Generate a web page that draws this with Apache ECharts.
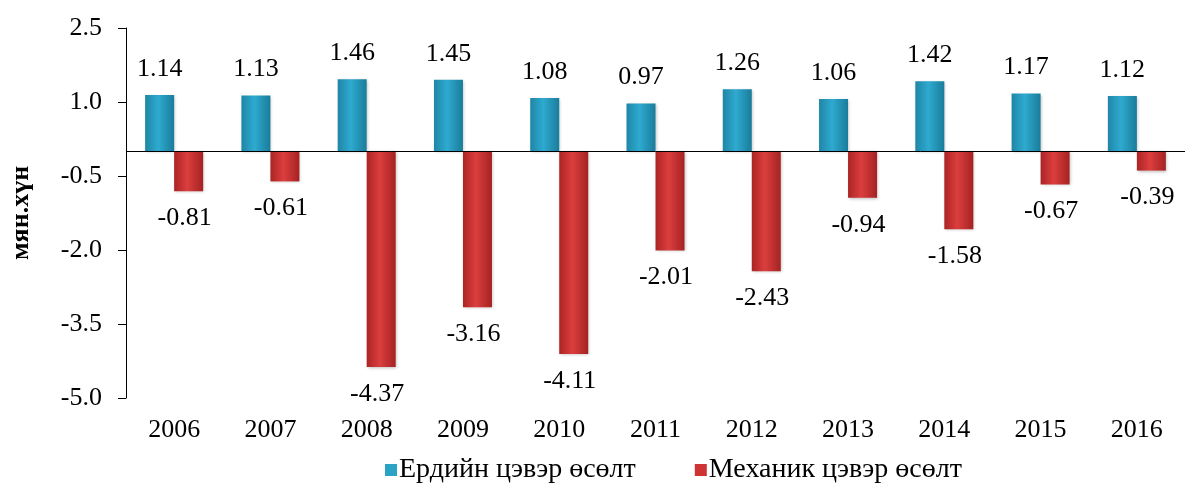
<!DOCTYPE html>
<html>
<head>
<meta charset="utf-8">
<script src="https://cdn.jsdelivr.net/npm/echarts@6/dist/echarts.min.js"></script>
<style>
html,body{margin:0;padding:0;background:#fff;}
#chart{width:1195px;height:489px;}
</style>
</head>
<body>
<div id="chart"></div>
<script>
const years = ['2006','2007','2008','2009','2010','2011','2012','2013','2014','2015','2016'];
const natural = [1.14,1.13,1.46,1.45,1.08,0.97,1.26,1.06,1.42,1.17,1.12];
const mechanical = [-0.81,-0.61,-4.37,-3.16,-4.11,-2.01,-2.43,-0.94,-1.58,-0.67,-0.39];
const seriesNames = ['Ердийн цэвэр өсөлт','Механик цэвэр өсөлт'];
const yAxisName = 'мян.хүн';

const FONT = '"Liberation Serif", "Times New Roman", serif';
const blueGrad = new echarts.graphic.LinearGradient(0,0,1,0,[
  {offset:0,color:'#1f86a6'},{offset:0.45,color:'#2eaad0'},{offset:1,color:'#1a7c9a'}]);
const redGrad = new echarts.graphic.LinearGradient(0,0,1,0,[
  {offset:0,color:'#ab2424'},{offset:0.45,color:'#dc3e3e'},{offset:1,color:'#a52222'}]);

const chart = echarts.init(document.getElementById('chart'), null, {renderer:'canvas'});
chart.setOption({
  backgroundColor:'#fff',
  animation:false,
  grid:{left:122, right:10, top:28, bottom:91},
  legend:{
    bottom:0, left:380, icon:'rect', itemWidth:12, itemHeight:12, itemGap:59,
    textStyle:{fontFamily:FONT, fontSize:28, color:'#000', padding:[0,0,0,-3]},
    data:[
      {name:seriesNames[0], itemStyle:{color:'#2ba3c4'}},
      {name:seriesNames[1], itemStyle:{color:'#cf3434'}}
    ]
  },
  xAxis:{
    type:'category', data:years,
    axisLine:{show:false}, axisTick:{show:false},
    axisLabel:{fontFamily:FONT, fontSize:26, color:'#000', margin:19}
  },
  yAxis:{
    type:'value', min:-5, max:2.5, interval:1.5,
    name:yAxisName, nameLocation:'middle', nameGap:92, nameRotate:90,
    nameTextStyle:{fontFamily:FONT, fontSize:26, fontWeight:'bold', color:'#000'},
    axisLine:{show:true, lineStyle:{color:'#000', width:1}},
    axisTick:{show:true, inside:false, length:8, lineStyle:{color:'#000'}},
    splitLine:{show:false},
    axisLabel:{fontFamily:FONT, fontSize:26, color:'#000', margin:24,
      formatter:v=>v.toFixed(1)}
  },
  series:[
    {
      name:seriesNames[0], type:'bar', data:natural, barWidth:29, barGap:'0%',
      itemStyle:{color:blueGrad, shadowColor:'rgba(0,0,0,0.25)', shadowBlur:3, shadowOffsetX:1, shadowOffsetY:1},
      label:{show:true, position:'top', distance:13, fontFamily:FONT, fontSize:26, color:'#000',
        formatter:p=>p.value.toFixed(2)},
      markLine:{silent:true, symbol:'none', label:{show:false},
        lineStyle:{color:'#000', type:'solid', width:1},
        data:[{yAxis:0}]}
    },
    {
      name:seriesNames[1], type:'bar', data:mechanical, barWidth:29,
      itemStyle:{color:redGrad, shadowColor:'rgba(0,0,0,0.25)', shadowBlur:3, shadowOffsetX:1, shadowOffsetY:1},
      label:{show:true, position:'bottom', distance:14, offset:[-4,0], fontFamily:FONT, fontSize:26, color:'#000',
        formatter:p=>p.value.toFixed(2)}
    }
  ]
});
</script>
</body>
</html>
